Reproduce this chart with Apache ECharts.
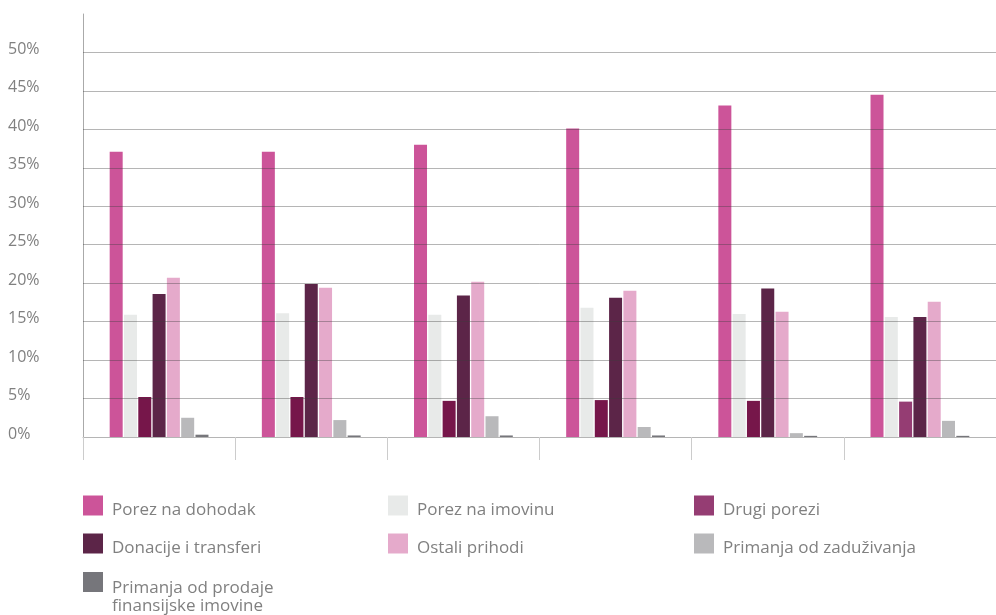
<!DOCTYPE html>
<html>
<head>
<meta charset="utf-8">
<script src="https://cdn.jsdelivr.net/npm/echarts@6/dist/echarts.min.js"></script>
<style>
html,body{margin:0;padding:0;background:#fff;}
#chart{width:996px;height:615px;}
</style>
</head>
<body>
<div id="chart"></div>
<script>
const categories = ['1', '2', '3', '4', '5', '6'];
const yTicks = [0, 5, 10, 15, 20, 25, 30, 35, 40, 45, 50];

const porezNaDohodak = [37.1, 37.1, 38.0, 40.1, 43.1, 44.5];
const porezNaImovinu = [15.9, 16.1, 15.9, 16.8, 16.0, 15.6];
const drugiPorezi = [5.2, 5.2, 4.7, 4.8, 4.7, 4.6];
const donacijeTransferi = [18.6, 19.9, 18.4, 18.1, 19.3, 15.6];
const ostaliPrihodi = [20.7, 19.4, 20.2, 19.0, 16.3, 17.6];
const primanjaZaduzivanja = [2.5, 2.2, 2.7, 1.3, 0.5, 2.1];
const primanjaProdaje = [0.3, 0.2, 0.2, 0.2, 0.15, 0.15];

const seriesNames = [
  'Porez na dohodak',
  'Porez na imovinu',
  'Drugi porezi',
  'Donacije i transferi',
  'Ostali prihodi',
  'Primanja od zaduživanja',
  'Primanja od prodaje\nfinansijske imovine'
];
const seriesValues = [porezNaDohodak, porezNaImovinu, drugiPorezi, donacijeTransferi, ostaliPrihodi, primanjaZaduzivanja, primanjaProdaje];
const colors = ['#cc5499', '#e8eae9', '#953d73', '#5c2548', '#e5aacb', '#b9b9bb', '#76767b'];
// Drugi porezi bars in the first five groups are drawn darker in the reference
const drugiBarColors = ['#76164a', '#76164a', '#76164a', '#76164a', '#76164a', '#953d73'];

const chart = echarts.init(document.getElementById('chart'), null, {renderer: 'canvas'});

const series = seriesValues.map((vals, i) => {
  const s = {
    name: seriesNames[i],
    type: 'bar',
    barWidth: 13,
    barGap: '10%',
    itemStyle: {color: colors[i]},
    data: vals.map((v, j) => (i === 2 ? {value: v, itemStyle: {color: drugiBarColors[j]}} : v))
  };
  if (i === seriesValues.length - 1) {
    s.markLine = {
      silent: true,
      symbol: 'none',
      z: 10,
      label: {show: false},
      lineStyle: {color: 'rgba(60,60,60,0.38)', width: 1, type: 'solid'},
      data: yTicks.filter(t => t > 0).map(t => ({yAxis: t}))
    };
  }
  return s;
});

// legend layout: [series index, left, top]
const legendSlots = [
  [0, 83, 492.5], [1, 388, 492.5], [2, 694, 492.5],
  [3, 83, 530.5], [4, 388, 530.5], [5, 694, 530.5],
  [6, 83, 551]
];
const richBase = {color: '#808080', fontFamily: 'Open Sans', fontSize: 17, lineHeight: 20};
const legends = legendSlots.map(([idx, left, top]) => {
  const multi = seriesNames[idx].indexOf('\n') >= 0;
  return {
    left: left,
    top: top,
    padding: 0,
    icon: 'rect',
    itemWidth: 20,
    itemHeight: 20,
    itemGap: 0,
    selectedMode: false,
    formatter: name => {
      const lines = name.split('\n');
      const body = lines.map((l, k) => (k === 0 ? '{s|' : '{n|') + l + '}');
      if (multi) body.unshift('{e| }');
      return body.join('\n');
    },
    textStyle: {
      color: '#808080',
      fontFamily: 'Open Sans',
      fontSize: 17,
      rich: {
        s: Object.assign({}, richBase, {padding: [9, 0, 0, 4]}),
        n: Object.assign({}, richBase, {lineHeight: 25, padding: [0, 0, 0, 4]}),
        e: Object.assign({}, richBase, {lineHeight: 28, padding: [0, 0, 0, 4]})
      }
    },
    data: [seriesNames[idx]]
  };
});

chart.setOption({
  animation: false,
  backgroundColor: '#fff',
  grid: {left: 83, top: 14, width: 917, height: 423, containLabel: false},
  legend: legends,
  xAxis: {
    type: 'category',
    data: categories,
    axisLine: {show: true, lineStyle: {color: '#b5b5b5', width: 1}},
    axisTick: {show: true, length: 23, lineStyle: {color: '#cccccc'}},
    axisLabel: {show: false},
    splitLine: {show: false}
  },
  yAxis: {
    type: 'value',
    min: 0,
    max: 55,
    interval: 5,
    axisLine: {show: true, lineStyle: {color: '#aaaaaa'}},
    axisTick: {show: false},
    splitLine: {show: false},
    axisLabel: {
      align: 'left',
      verticalAlign: 'bottom',
      lineHeight: 6,
      margin: 75,
      color: '#808080',
      fontFamily: 'Open Sans',
      fontSize: 16,
      formatter: v => (yTicks.indexOf(v) >= 0 ? v + '%' : '')
    }
  },
  series: series
});
</script>
</body>
</html>
